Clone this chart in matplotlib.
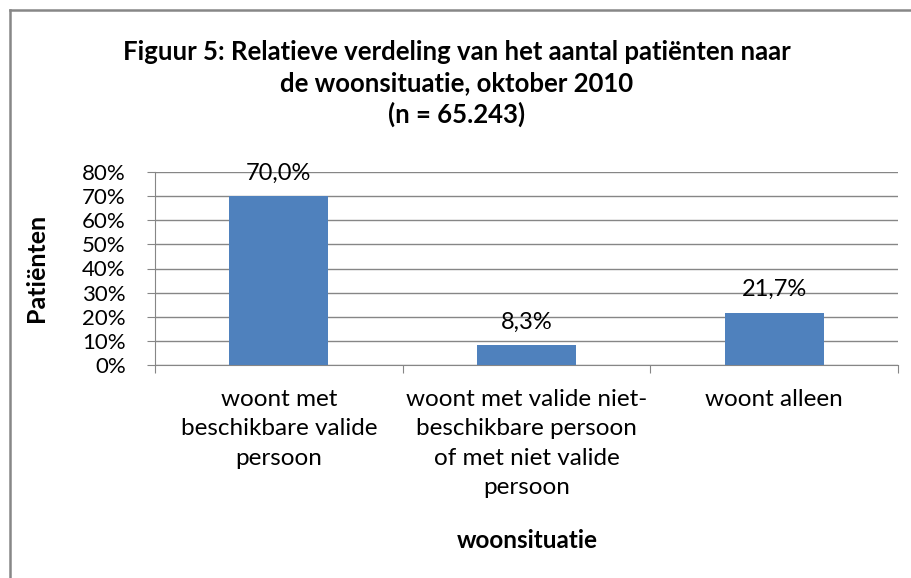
import matplotlib
matplotlib.use("Agg")
import matplotlib.pyplot as plt
from matplotlib.lines import Line2D

plt.rcParams['font.family'] = ['Lato', 'DejaVu Sans']

categories = ["woont met\nbeschikbare valide\npersoon",
              "woont met valide niet-\nbeschikbare persoon\nof met niet valide\npersoon",
              "woont alleen"]
values = [70.0, 8.3, 21.7]
value_labels = ["70,0%", "8,3%", "21,7%"]
yticks = [0, 10, 20, 30, 40, 50, 60, 70, 80]
ytick_labels = ["0%", "10%", "20%", "30%", "40%", "50%", "60%", "70%", "80%"]

W, H = 912, 578
fig = plt.figure(figsize=(W/100, H/100), dpi=100)
fig.patch.set_facecolor('white')

# outer border (only top and left visible, chart area cropped)
fig.add_artist(Line2D([10/W, 10/W], [0, 1 - 10/H], transform=fig.transFigure,
                      color='#878787', linewidth=1.8))
fig.add_artist(Line2D([10/W, 1], [1 - 10/H, 1 - 10/H], transform=fig.transFigure,
                      color='#878787', linewidth=1.8))

left, right, top, bottom = 155, 898, 172, 365
ax = fig.add_axes([left/W, 1 - bottom/H, (right-left)/W, (bottom-top)/H])
x = list(range(len(categories)))
ax.bar(x, values, width=0.4, color='#4F81BD', zorder=3)
ax.set_xlim(-0.5, 2.5)
ax.set_ylim(0, 80)
ax.set_yticks(yticks)
ax.set_yticklabels(ytick_labels, fontsize=16)
ax.yaxis.grid(True, color='#868686', linewidth=1.0, zorder=0)
ax.set_axisbelow(True)
for s in ['top', 'right']:
    ax.spines[s].set_visible(False)
ax.spines['left'].set_color('#868686')
ax.spines['bottom'].set_color('#868686')
ax.tick_params(axis='y', length=6, color='#868686', pad=15)
ax.set_xticks([-0.5, 0.5, 1.5, 2.5], minor=False)
ax.set_xticklabels([])
ax.tick_params(axis='x', length=6, color='#868686')
for xi, c in zip(x, categories):
    ax.annotate(c, xy=(xi, 0), xycoords='data', xytext=(0, -17), textcoords='offset points',
                ha='center', va='top', fontsize=17.5, linespacing=1.5)
for xi, v, lab in zip(x, values, value_labels):
    ax.annotate(lab, xy=(xi, v), xytext=(0, 9), textcoords='offset points',
                ha='center', va='bottom', fontsize=17)

title_lines = ["Figuur 5: Relatieve verdeling van het aantal patiënten naar",
               "de woonsituatie, oktober 2010",
               "(n = 65.243)"]
for yy, line in zip([52, 83, 114], title_lines):
    fig.text(457/W, 1 - yy/H, line, ha='center', va='center', fontsize=18.5, fontweight='bold')
fig.text(37/W, 1 - 268/H, "Patiënten", rotation=90, ha='center', va='center',
         fontsize=18, fontweight='bold')
fig.text(527/W, 1 - 540/H, "woonsituatie", ha='center', va='center',
         fontsize=17.5, fontweight='bold')

fig.savefig("out.png", dpi=100, facecolor='white')
